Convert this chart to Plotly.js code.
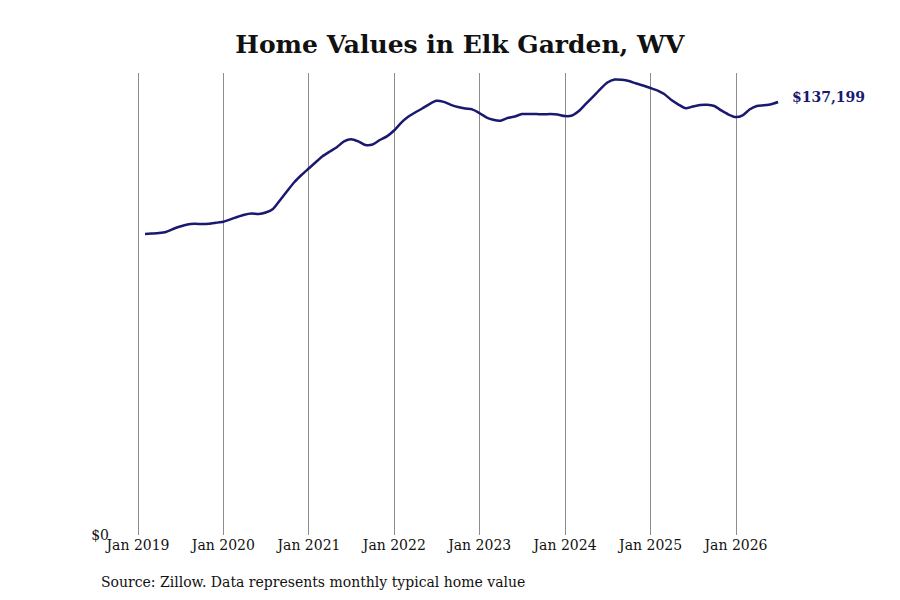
<!DOCTYPE html>
<html>
<head>
<meta charset="utf-8">
<script src="https://cdn.plot.ly/plotly-3.0.1.min.js"></script>
<style>
  html, body { margin: 0; padding: 0; background: #ffffff; }
  #chart { width: 900px; height: 600px; }
</style>
</head>
<body>
<div id="chart"></div>
<script>
// ---- Data ----
const chartTitle = "Home Values in Elk Garden, WV";
const sourceNote = "Source: Zillow. Data represents monthly typical home value";
const firstMonth = "2019-01"; // first monthly observation (month-end)
const monthCount = 90;        // Jan 2019 .. Jun 2026
const homeValues = [
  95370, 95530, 95690, 96010, 96960, 97750, 98380, 98600, 98540, 98600, 98920, 99270,
  100030, 100760, 101460, 101840, 101710, 102180, 103290, 106150, 109000, 111850, 114070, 116130,
  118190, 120020, 121510, 122870, 124740, 125410, 124740, 123570, 123730, 125160, 126330, 128170,
  130700, 132440, 133870, 135140, 136560, 137580, 137260, 136310, 135610, 135140, 134880, 133710,
  132290, 131560, 131270, 132130, 132600, 133390, 133390, 133390, 133300, 133390, 133240, 132760,
  132920, 134340, 136720, 138940, 141320, 143380, 144330, 144230, 143850, 143060, 142420, 141630,
  140840, 139730, 137830, 136400, 135200, 135770, 136250, 136340, 135930, 134500, 133240, 132440,
  133080, 134820, 135930, 136150, 136470, 137199
];
const tickYears = [2019, 2020, 2021, 2022, 2023, 2024, 2025, 2026];
const tickLabels = ["Jan 2019", "Jan 2020", "Jan 2021", "Jan 2022", "Jan 2023", "Jan 2024", "Jan 2025", "Jan 2026"];
const lastLabel = "$137,199";

// month-end dates
const dates = [];
{
  const [y0, m0] = firstMonth.split("-").map(Number);
  for (let i = 0; i < monthCount; i++) {
    const d = new Date(Date.UTC(y0, m0 - 1 + i + 1, 0));
    dates.push(d.toISOString().slice(0, 10));
  }
}
const tickVals = tickYears.map(y => y + "-01-01");

// x range so that Jan 2019 sits ~28px from the plot's left edge
const plotW = 670;
const t2019 = Date.UTC(2019, 0, 1), t2026 = Date.UTC(2026, 0, 1);
const pxPerMs = 598 / (t2026 - t2019);
const xr = [new Date(t2019 - 28 / pxPerMs).toISOString(), new Date(t2019 + (plotW - 28) / pxPerMs).toISOString()];

const navy = "#191970";
const serif = "DejaVu Serif, serif";

const trace = {
  x: dates,
  y: homeValues,
  type: "scatter",
  mode: "lines",
  line: { color: navy, width: 2.5, shape: "spline", smoothing: 0.6 },
  hoverinfo: "x+y"
};

const layout = {
  width: 900,
  height: 600,
  paper_bgcolor: "#ffffff",
  plot_bgcolor: "#ffffff",
  margin: { l: 110, r: 120, t: 73, b: 65 },
  showlegend: false,
  title: {
    text: "<b>" + chartTitle + "</b>",
    font: { family: serif, size: 25, color: "#111111" },
    x: 0.511, xanchor: "center",
    y: 1 - 44 / 600, yanchor: "middle", yref: "container"
  },
  xaxis: {
    type: "date",
    range: xr,
    tickvals: tickVals,
    ticktext: tickLabels,
    showgrid: true,
    gridcolor: "#8c8c8c",
    gridwidth: 1,
    zeroline: false,
    showline: false,
    ticks: "",
    tickfont: { family: serif, size: 14, color: "#111111" },
    fixedrange: true
  },
  yaxis: {
    range: [0, 146400],
    tickvals: [0],
    ticktext: ["$0"],
    showgrid: false,
    zeroline: false,
    showline: false,
    ticks: "",
    tickfont: { family: serif, size: 14, color: "#111111" },
    fixedrange: true
  },
  annotations: [
    {
      x: dates[dates.length - 1],
      y: homeValues[homeValues.length - 1],
      xref: "x", yref: "y",
      text: "<b>" + lastLabel + "</b>",
      showarrow: false,
      xanchor: "left", yanchor: "middle",
      xshift: 12, yshift: 5,
      font: { family: serif, size: 14, color: navy }
    },
    {
      x: -0.0164, y: -0.1017,
      xref: "paper", yref: "paper",
      text: sourceNote,
      showarrow: false,
      xanchor: "left", yanchor: "middle",
      font: { family: serif, size: 14, color: "#111111" }
    }
  ]
};

Plotly.newPlot("chart", [trace], layout, { displayModeBar: false, staticPlot: true });
</script>
</body>
</html>
